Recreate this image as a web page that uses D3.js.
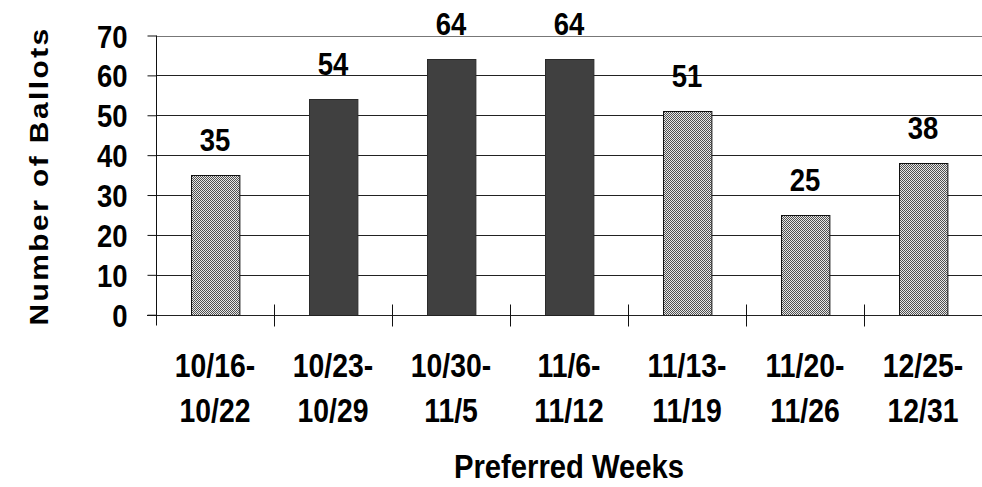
<!DOCTYPE html>
<html>
<head>
<meta charset="utf-8">
<script src="https://cdn.jsdelivr.net/npm/d3@7"></script>
<style>
  html, body { margin: 0; padding: 0; background: #fff; }
  svg { display: block; font-family: "Liberation Sans", Arial, sans-serif; font-weight: bold; }
</style>
</head>
<body>
<svg id="chart" width="982" height="487"></svg>
<script>
// ---- data ----
const weekStarts = ["10/16-", "10/23-", "10/30-", "11/6-", "11/13-", "11/20-", "12/25-"];
const weekEnds   = ["10/22", "10/29", "11/5", "11/12", "11/19", "11/26", "12/31"];
const ballots    = [35, 54, 64, 64, 51, 25, 38];
const groups     = ["other", "top", "top", "top", "other", "other", "other"];
const yTicks     = [0, 10, 20, 30, 40, 50, 60, 70];
const yTitle = "Number of Ballots";
const xTitle = "Preferred Weeks";

(function () {
const svg = d3.select("#chart");
const pLeft = 156, pRight = 982, pTop = 35.5, pBottom = 314.7;
const SX = 0.86;

const defs = svg.append("defs");
const pat = defs.append("pattern").attr("id", "dots").attr("patternUnits", "userSpaceOnUse")
  .attr("width", 2).attr("height", 2);
pat.append("rect").attr("width", 2).attr("height", 2).attr("fill", "#e8e8e8");
pat.append("rect").attr("width", 1).attr("height", 1).attr("fill", "#505050");
pat.append("rect").attr("x", 1).attr("y", 1).attr("width", 1).attr("height", 1).attr("fill", "#505050");

const cats = weekStarts.map((d, i) => d + weekEnds[i]);
const x = d3.scaleBand().domain(cats).range([pLeft, pRight]).paddingInner(0.59).paddingOuter(0.295);
const y = d3.scaleLinear().domain([0, 70]).range([pBottom, pTop]);

// gridlines
svg.append("g").selectAll("line").data(yTicks.filter(t => t > 0)).join("line")
  .attr("x1", pLeft).attr("x2", pRight)
  .attr("y1", d => Math.round(y(d)) + 0.5).attr("y2", d => Math.round(y(d)) + 0.5)
  .attr("stroke", d => d === 70 ? "#777" : "#222").attr("stroke-width", 1);

// bars
svg.append("g").selectAll("rect").data(ballots).join("rect")
  .attr("x", (d, i) => Math.round(x(cats[i])) + 0.5)
  .attr("y", d => Math.round(y(d)) + 0.5)
  .attr("width", x.bandwidth())
  .attr("height", d => Math.round(y(0)) - Math.round(y(d)))
  .attr("fill", (d, i) => groups[i] === "top" ? "#404040" : "url(#dots)")
  .attr("stroke", (d, i) => groups[i] === "top" ? "#2a2a2a" : "#111")
  .attr("stroke-width", 1);

// x axis line and crossing ticks
const y0 = Math.round(y(0)) + 0.5;
svg.append("line").attr("x1", pLeft - 9).attr("x2", pRight).attr("y1", y0).attr("y2", y0)
  .attr("stroke", "#222");
const bounds = cats.slice(1).map(c => x(c) - x.step() * x.paddingInner() / 2);
svg.append("g").selectAll("line").data(bounds).join("line")
  .attr("x1", d => Math.round(d) + 0.5).attr("x2", d => Math.round(d) + 0.5)
  .attr("y1", y0 - 11).attr("y2", y0 + 11).attr("stroke", "#111");

// y axis
const yAxis = d3.axisLeft(y).tickValues(yTicks).tickSize(9).tickPadding(20).tickFormat(d3.format("d"));
const ga = svg.append("g").attr("transform", `translate(${pLeft + 0.5},0)`).call(yAxis);
ga.select(".domain").remove();
ga.append("line").attr("x1", 0).attr("x2", 0).attr("y1", pTop).attr("y2", y0 + 10).attr("stroke", "#111");
ga.selectAll(".tick line").attr("stroke", "#111");
ga.selectAll(".tick text")
  .attr("font-size", 32).attr("font-family", "Liberation Sans, Arial, sans-serif")
  .attr("font-weight", "bold").attr("fill", "#000")
  .attr("dy", "0.36em")
  .each(function () {
    const t = d3.select(this);
    const xx = +t.attr("x");
    t.attr("x", null).attr("transform", `translate(${xx},0) scale(${SX},1)`);
  });

// value labels
svg.append("g").selectAll("text").data(ballots).join("text")
  .attr("transform", (d, i) => `translate(${x(cats[i]) + x.bandwidth() / 2},${y(d) - 24}) scale(${SX},1)`)
  .attr("text-anchor", "middle").attr("font-size", 32).attr("fill", "#000")
  .text(d => d);

// category labels
const cl = svg.append("g").selectAll("g").data(cats).join("g")
  .attr("transform", d => `translate(${x(d) + x.bandwidth() / 2},0)`);
cl.append("text").attr("transform", `translate(0,377) scale(${SX},1)`)
  .attr("text-anchor", "middle").attr("font-size", 33).text((d, i) => weekStarts[i]);
cl.append("text").attr("transform", `translate(0,422) scale(${SX},1)`)
  .attr("text-anchor", "middle").attr("font-size", 33).text((d, i) => weekEnds[i]);

// axis titles
svg.append("text").attr("transform", `translate(${(pLeft + pRight) / 2},478) scale(${SX},1)`)
  .attr("text-anchor", "middle").attr("font-size", 34).text(xTitle);
svg.append("text").attr("transform", `translate(48,${(pTop + pBottom) / 2 + 2}) rotate(-90) scale(1.15,1)`)
  .attr("text-anchor", "middle").attr("font-size", 26)
  .attr("textLength", 258).attr("lengthAdjust", "spacing").text(yTitle);
})();
</script>
</body>
</html>
